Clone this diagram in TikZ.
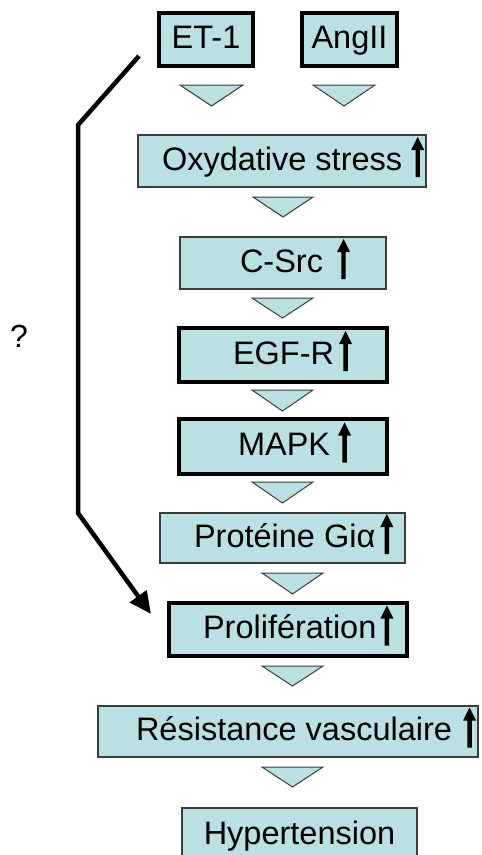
\documentclass[tikz,border=0pt]{standalone}
\usepackage{fontspec}
\setmainfont{Liberation Sans}
\usetikzlibrary{arrows.meta}
\definecolor{boxfill}{RGB}{187,224,227}
\definecolor{edgegray}{RGB}{60,60,60}
\newcommand{\uparr}{\tikz[baseline=0pt,x=1pt,y=1pt]\fill[black] (-2.2,-7) -- (2.2,-7) -- (2.2,20) -- (6.5,20) -- (0,33) -- (-6.5,20) -- (-2.2,20) -- cycle;}
\newcommand{\bt}[3]{\makebox[#1pt][l]{\hspace*{#2pt}#3}}
\begin{document}
\begin{tikzpicture}[x=1pt,y=-1pt,
  box/.style={fill=boxfill, draw=edgegray, line width=1.2pt, inner sep=0pt,
    font=\fontsize{32.5}{38}\selectfont, text height=23pt, text depth=5pt},
  boldbox/.style={box, draw=black, line width=3.5pt},
  tri/.style={fill=boxfill, draw=edgegray, line width=1pt, line join=miter},
  bracket/.style={line width=4.5pt, -{Triangle[length=22pt,width=20pt]}},
  qmark/.style={font=\fontsize{32}{38}\selectfont, inner sep=0pt}]
\clip (0,0) rectangle (482,855);
\useasboundingbox (0,0) rectangle (482,855);

% boxes
\node[boldbox, minimum width=94pt, minimum height=53pt] (et1) at (206,39.5) {ET-1};
\node[boldbox, minimum width=95pt, minimum height=53pt] (ang) at (349.5,39.5) {AngII};
\node[box, minimum width=288pt, minimum height=52pt] (ox) at (282,161) {\bt{288}{24}{Oxydative stress \uparr}};
\node[box, minimum width=206pt, minimum height=52pt] (csrc) at (283,263) {\bt{206}{60}{C-Src\hspace{14pt}\uparr}};
\node[boldbox, minimum width=208pt, minimum height=54pt] (egfr) at (283,355) {\bt{208}{54}{EGF-R\hspace{5pt}\uparr}};
\node[boldbox, minimum width=208pt, minimum height=55pt] (mapk) at (283,446.5) {\bt{208}{59}{MAPK\hspace{8pt}\uparr}};
\node[box, minimum width=245pt, minimum height=50pt] (prot) at (282.5,538) {\bt{245}{34}{Protéine Giα\hspace{5pt}\uparr}};
\node[boldbox, minimum width=238pt, minimum height=53pt] (prolif) at (288,629.5) {\bt{238}{34}{Prolifération\hspace{4pt}\uparr}};
\node[box, minimum width=380pt, minimum height=51pt] (resist) at (288,731.5) {\bt{380}{38}{Résistance vasculaire\hspace{11pt}\uparr}};
\node[box, minimum width=235pt, minimum height=54pt] (hyper) at (299.5,835) {Hypertension};

% block arrows
\draw[tri] (180,85) -- (243,85) -- (211.5,106) -- cycle;
\draw[tri] (313,85) -- (375,85) -- (344,106) -- cycle;
\draw[tri] (253,197) -- (313,197) -- (283,217) -- cycle;
\draw[tri] (252,298) -- (313,298) -- (282.5,318) -- cycle;
\draw[tri] (252,390) -- (313,390) -- (282.5,411) -- cycle;
\draw[tri] (252,482) -- (313,482) -- (282.5,503) -- cycle;
\draw[tri] (262,573) -- (323,573) -- (292.5,594) -- cycle;
\draw[tri] (262,666) -- (323,666) -- (292.5,686) -- cycle;
\draw[tri] (262,767) -- (323,767) -- (292.5,787) -- cycle;

% bracket arrow
\coordinate (bstart) at (139,56);
\coordinate (bup) at (78,125);
\coordinate (bdown) at (78,513);
\coordinate (bend) at (151,614);
\draw[bracket] (bstart) -- (bup) -- (bdown) -- (bend);

\node[qmark] (q) at (19,336) {?};
\end{tikzpicture}
\end{document}
